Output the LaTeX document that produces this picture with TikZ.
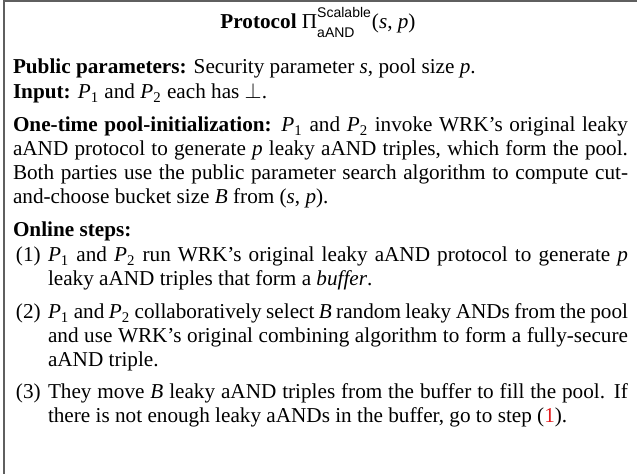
\documentclass[tikz,border=0pt]{standalone}
\usepackage{fontspec}
\setmainfont{Liberation Serif}
\setsansfont{Liberation Sans}
\definecolor{linkred}{RGB}{228,26,28}
\definecolor{framegray}{RGB}{95,95,95}
\newcommand{\Pone}{\textit{P}\textsubscript{1}}
\newcommand{\Ptwo}{\textit{P}\textsubscript{2}}
\newcommand{\bodyfont}{\fontsize{10.6pt}{12pt}\selectfont\spaceskip=0.25em plus 0.3em minus 0.16em\tolerance=9000\relax}
\tikzset{
  frameline/.style={draw=framegray, line width=0.65pt},
  para/.style={anchor=base west, inner sep=0pt, outer sep=0pt, text width=#1, align=justify, font=\bodyfont},
  para/.default=307.5pt,
  itemlabel/.style={anchor=base west, inner sep=0pt, outer sep=0pt, font=\bodyfont},
  itembody/.style={para=290pt},
  titletext/.style={anchor=base, inner sep=0pt, outer sep=0pt, font=\bodyfont}
}
\begin{document}
\begin{tikzpicture}[x=0.5pt,y=-0.5pt]
\useasboundingbox (0,0) rectangle (637,474);
\draw[frameline] (4,474) -- (4,1) -- (637,1);
\node[titletext] (title) at (318,29) {\textbf{Protocol} $\mbox{Π}^{\raisebox{0.25ex}{\scriptsize\sffamily Scalable}}_{\raisebox{-0.35ex}{\scriptsize\sffamily aAND}}$(\textit{s}, \textit{p})};
\node[para] (pub) at (13,74) {\textbf{Public parameters:} Security parameter \textit{s}, pool size \textit{p}.};
\node[para] (inp) at (13,99) {\textbf{Input:} \Pone{} and \Ptwo{} each has $\perp$.};
\node[para] (init) at (13,132) {\textbf{One-time pool-initialization:} \Pone{} and \Ptwo{} invoke WRK’s original leaky\linebreak aAND protocol to generate \textit{p} leaky aAND triples, which form the pool.\linebreak Both parties use the public parameter search algorithm to compute cut-\linebreak and-choose bucket size \textit{B} from (\textit{s}, \textit{p}).};
\node[para] (online) at (13,237) {\textbf{Online steps:}};
\node[itemlabel] (l1) at (16,262) {(1)};
\node[itembody] (s1) at (48,262) {\Pone{} and \Ptwo{} run WRK’s original leaky aAND protocol to generate \textit{p}\linebreak leaky aAND triples that form a \textit{buffer}.};
\node[itemlabel] (l2) at (16,319) {(2)};
\node[itembody] (s2) at (48,319) {\Pone{} and \Ptwo{} collaboratively select \textit{B} random leaky ANDs from the pool\linebreak and use WRK’s original combining algorithm to form a fully-secure\linebreak aAND triple.};
\node[itemlabel] (l3) at (16,399) {(3)};
\node[itembody] (s3) at (48,399) {They move \textit{B} leaky aAND triples from the buffer to fill the pool. If\linebreak there is not enough leaky aANDs in the buffer, go to step (\textcolor{linkred}{1}).};
\end{tikzpicture}
\end{document}
